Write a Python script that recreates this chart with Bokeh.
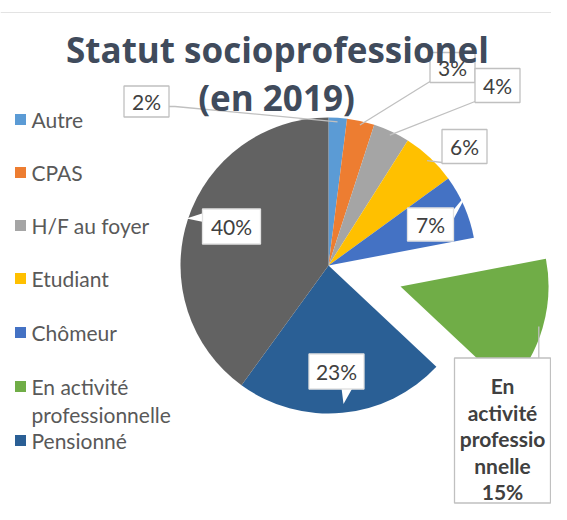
import numpy as np
from bokeh.plotting import figure
from bokeh.models import Range1d, Span
from bokeh.embed import file_html
from bokeh.resources import INLINE
from bokeh.core.properties import value

# ---------------- data ----------------
categories = ["Autre", "CPAS", "H/F au foyer", "Etudiant", "Chômeur",
              "En activité professionnelle", "Pensionné", "Autres / non précisé"]
shares = [2, 3, 4, 6, 7, 15, 23, 40]
legend_labels = ["Autre", "CPAS", "H/F au foyer", "Etudiant", "Chômeur",
                 "En activité\nprofessionnelle", "Pensionné"]
title_lines = ["Statut socioprofessionel", "(en 2019)"]
exploded = "En activité professionnelle"
exploded_label_lines = ["En", "activité", "professio", "nnelle"]

# ---------------- style / layout ----------------
colors = ["#5B9BD5", "#ED7D31", "#A5A5A5", "#FFC000", "#4472C4",
          "#70AD47", "#2A5F95", "#626262"]
FONT = "Lato"
W, H = 551, 504
PAGE_H = 520


def Y(py):
    return PAGE_H - py


cx, cy, R = 328, 265, 148
explode_dist = 75

# label text centres (image px) and box sizes, per slice
lab_pos = {
    "Autre": (146, 101, 45, 31),
    "CPAS": (452, 67, 45, 30),
    "H/F au foyer": (497, 85, 45, 34),
    "Etudiant": (464, 146, 45, 34),
    "Chômeur": (430, 224, 46, 33),
    "Pensionné": (336, 371, 55, 35),
    "Autres / non précisé": (231, 226, 58, 35),
}
leader_start = {
    "Autre": "right",
    "CPAS": "bl",
    "H/F au foyer": "bl",
    "Etudiant": "bl",
}
pointer = {
    "Chômeur": "ur",
    "Pensionné": "down",
    "Autres / non précisé": "left",
}

p = figure(width=W, height=H, output_backend="svg", toolbar_location=None,
           x_range=Range1d(0, W), y_range=Range1d(PAGE_H - H, PAGE_H),
           min_border=0, outline_line_color=None)
p.axis.visible = False
p.grid.visible = False
p.background_fill_color = "white"

p.add_layout(Span(location=Y(12), dimension="width", line_color="#E3E3E3", line_width=1))

# ---------------- pie ----------------
tot = float(sum(shares))
cum = np.cumsum([0] + shares) / tot
mid_angles = {}
for i, cat in enumerate(categories):
    a0 = np.pi / 2 - 2 * np.pi * cum[i]
    a1 = np.pi / 2 - 2 * np.pi * cum[i + 1]
    am = (a0 + a1) / 2
    mid_angles[cat] = am
    x0, y0 = cx, Y(cy)
    if cat == exploded:
        x0 += explode_dist * np.cos(am)
        y0 += explode_dist * np.sin(am)
    p.wedge(x=x0, y=y0, radius=R, start_angle=a1, end_angle=a0,
            fill_color=colors[i], line_color=None)

# ---------------- labels ----------------
box_line = "#C0C0C0"
txt_col = "#404040"
LAB_SIZE = "21px"
for i, cat in enumerate(categories):
    if cat not in lab_pos:
        continue
    tx, ty, bw, bh = lab_pos[cat]
    am = mid_angles[cat]
    if cat in leader_start:
        ex = cx + (R - 4) * np.cos(am)
        ey = Y(cy) + (R - 4) * np.sin(am)
        s = leader_start[cat]
        if s == "right":
            sx, sy = tx + bw / 2, Y(ty + 5)
            p.line([sx, sx + 6, ex], [sy, sy, ey], line_color=box_line, line_width=1.3)
        else:
            sx, sy = tx - bw / 2, Y(ty + bh / 2 - 1)
            p.line([sx, ex], [sy, ey], line_color=box_line, line_width=1.3)
    if cat in pointer:
        d = pointer[cat]
        if d == "left":
            xs = [tx - bw / 2 + 1, tx - bw / 2 - 16, tx - bw / 2 + 1]
            ys = [Y(ty - bh / 2 + 4), Y(ty - 8), Y(ty - bh / 2 + 13)]
        elif d == "down":
            xs = [tx + 5, tx + 7, tx + 16]
            ys = [Y(ty + bh / 2 - 1), Y(ty + bh / 2 + 15), Y(ty + bh / 2 - 1)]
        else:
            xs = [tx + bw / 2 - 1, tx + bw / 2 + 14, tx + bw / 2 - 1]
            ys = [Y(ty - bh / 2 + 3), Y(ty - bh / 2 - 15), Y(ty - bh / 2 + 13)]
        p.patch(xs, ys, fill_color="white", line_color=None)
    p.rect(x=tx, y=Y(ty), width=bw, height=bh, fill_color="white",
           line_color=box_line if cat not in pointer else "#E2E2E2", line_width=1.3)
    p.text(x=[tx], y=[Y(ty)], text=[f"{shares[i]}%"], text_align="center",
           text_baseline="middle", text_font=value(FONT), text_font_size=LAB_SIZE,
           text_color=txt_col)

# exploded slice label (category name + value)
gi = categories.index(exploded)
gam = mid_angles[exploded]
gx0 = cx + explode_dist * np.cos(gam)
gy0 = Y(cy) + explode_dist * np.sin(gam)
bx0, by0, bw, bh = 502, 430, 96, 145
lx = gx0 + (R - 4) * np.cos(gam)
ly = gy0 + (R - 4) * np.sin(gam)
p.line([lx, lx], [ly, Y(by0 - bh / 2)], line_color=box_line, line_width=1.3)
p.rect(x=bx0, y=Y(by0), width=bw, height=bh, fill_color="white",
       line_color=box_line, line_width=1.3)
g_lines = exploded_label_lines + [f"{shares[gi]}%"]
p.text(x=[bx0] * len(g_lines), y=[Y(385 + 26.5 * k) for k in range(len(g_lines))],
       text=g_lines, text_align="center", text_baseline="middle",
       text_font=value(FONT), text_font_style="bold", text_font_size="21px",
       text_color=txt_col)

# ---------------- title ----------------
p.text(x=[277, 276], y=[Y(49), Y(97)], text=title_lines, text_align="center",
       text_baseline="alphabetic", text_font=value("Open Sans"), text_font_style="bold",
       text_font_size="35px", text_color="#404B5C")

# ---------------- legend ----------------
leg_y = [119, 172, 225, 278, 332, 386, 440]
for i, lab in enumerate(legend_labels):
    yy = leg_y[i]
    p.rect(x=20, y=Y(yy), width=11, height=11, fill_color=colors[i], line_color=None)
    for k, line in enumerate(lab.split("\n")):
        p.text(x=[31], y=[Y(yy + 28 * k)], text=[line], text_align="left",
               text_baseline="middle", text_font=value(FONT), text_font_size="21px",
               text_color="#595959")

open("out.html", "w").write(file_html(p, INLINE))
